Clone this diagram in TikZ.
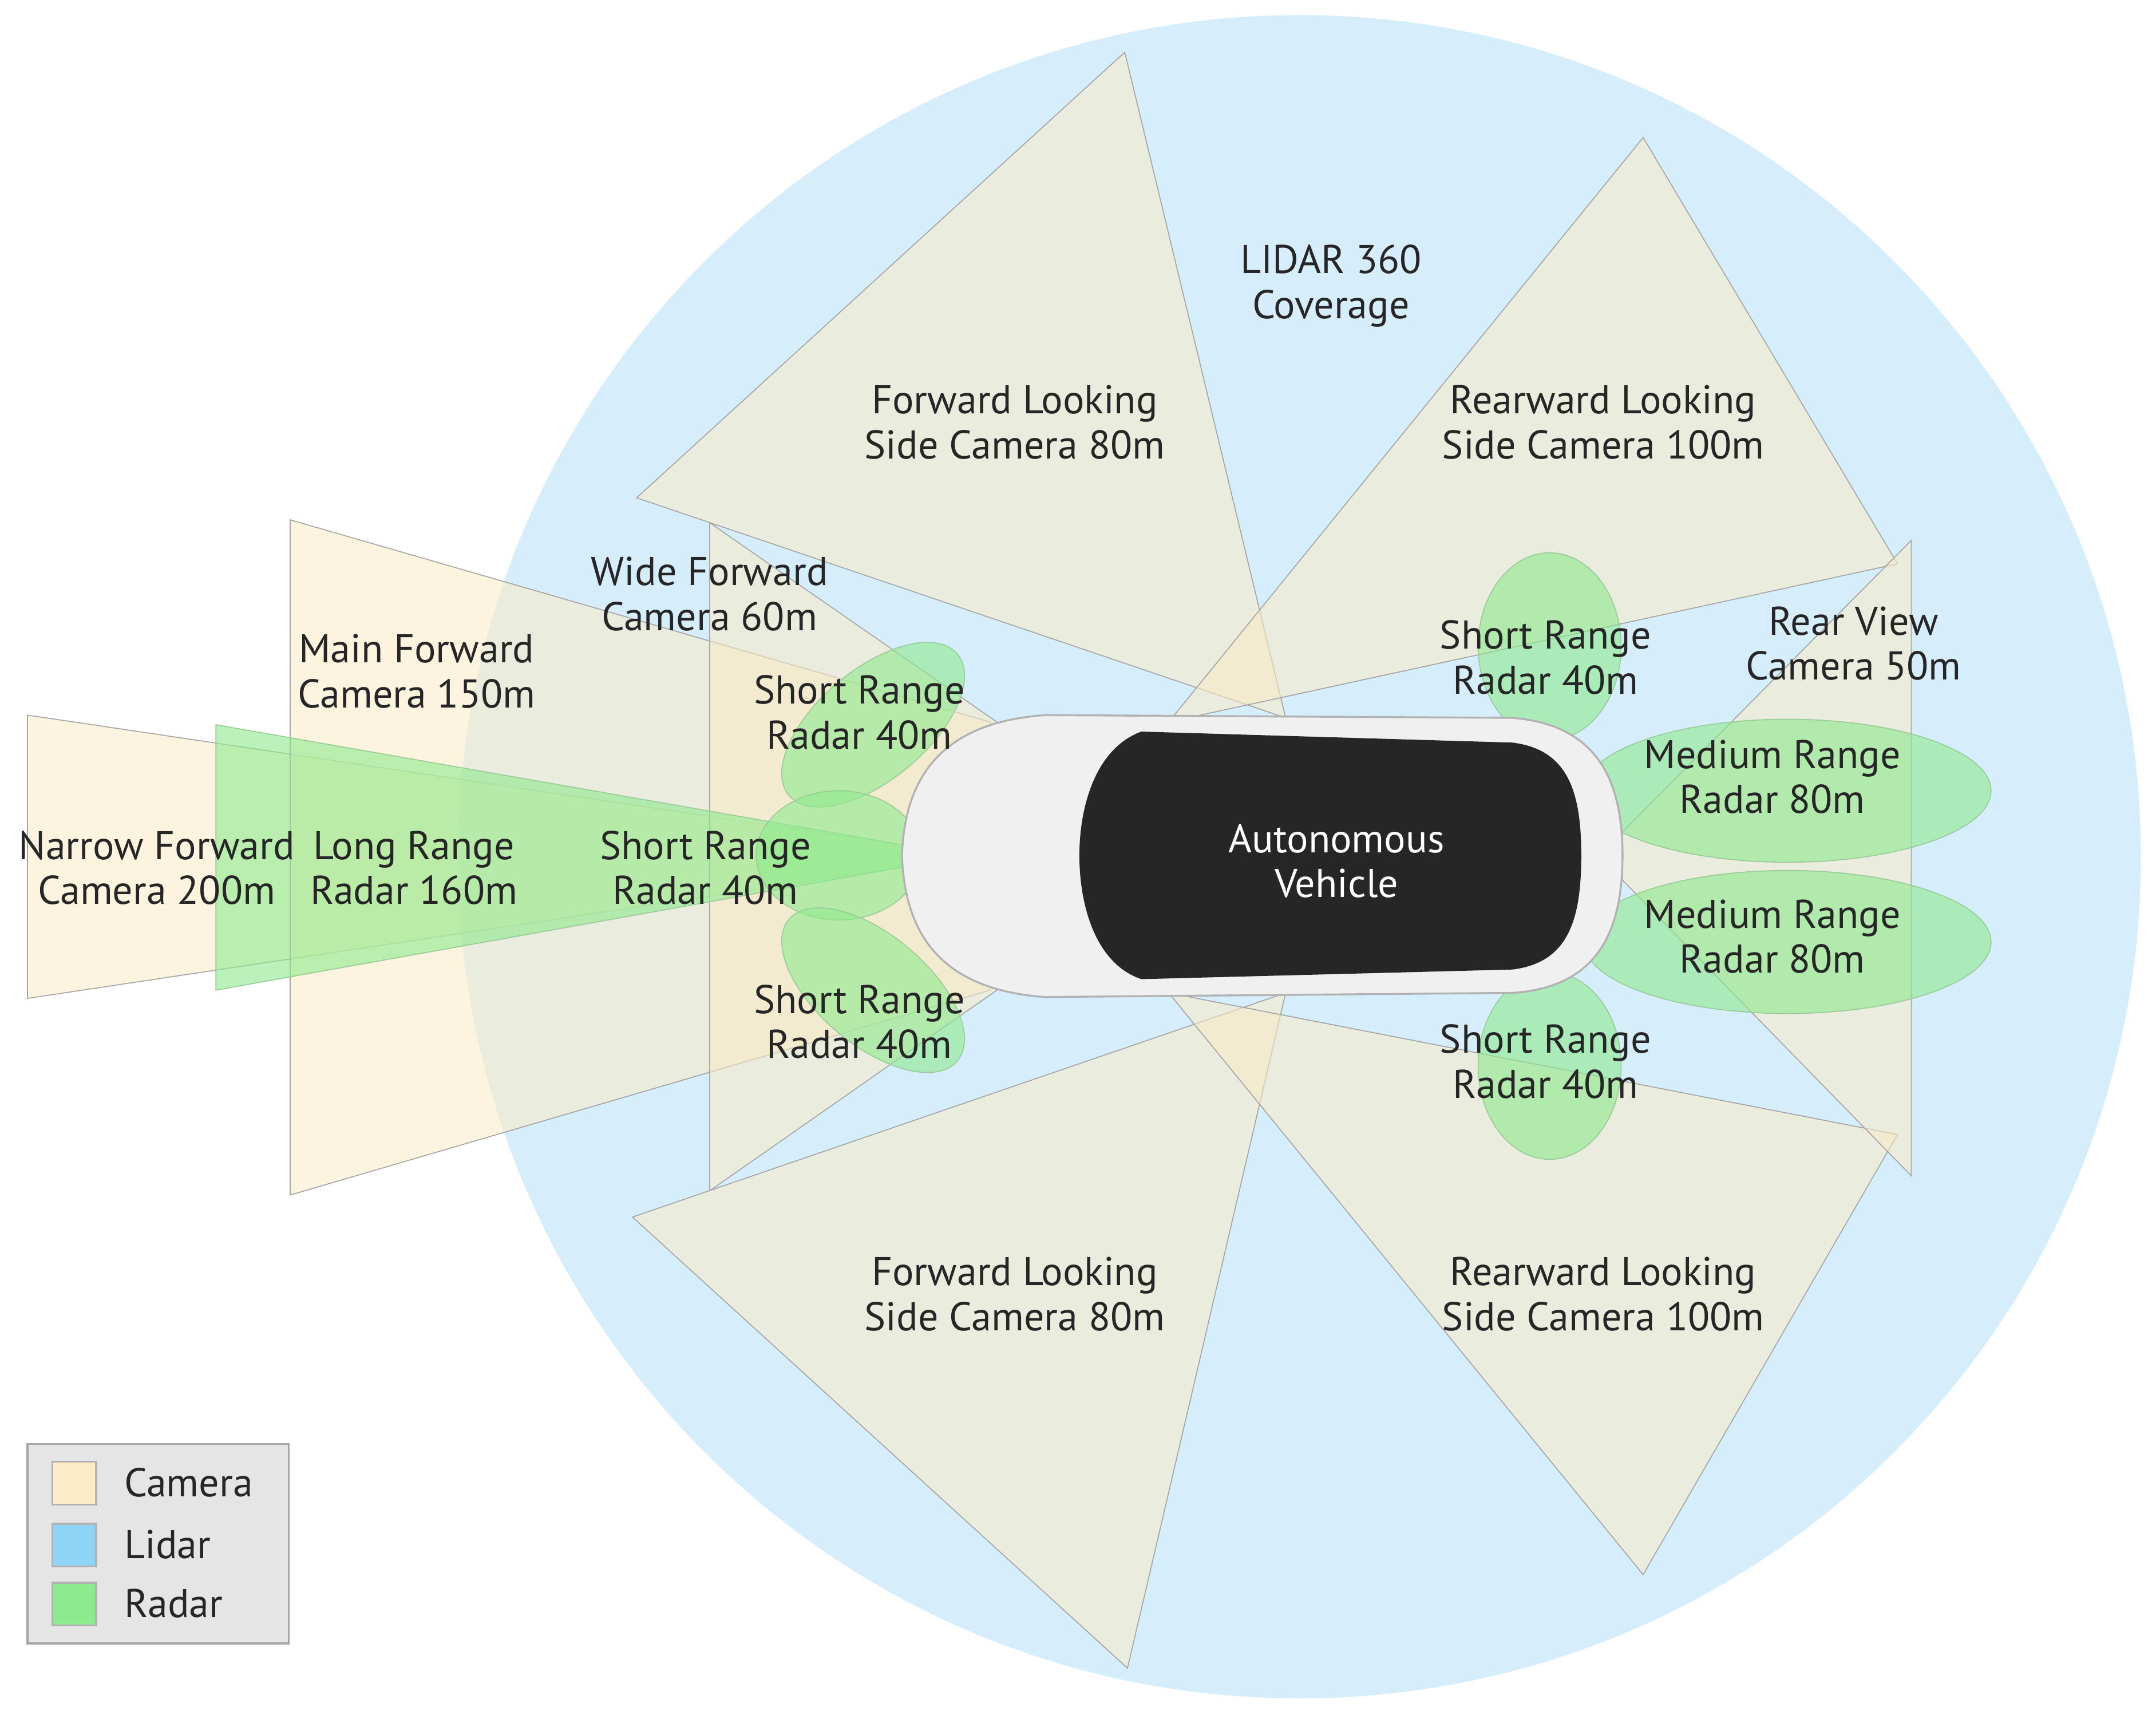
\documentclass[tikz,border=0pt]{standalone}
\usepackage{fontspec}
\setmainfont{PT Sans}
\begin{document}
\begin{tikzpicture}[x=0.1mm,y=-0.1mm,
  cam/.style={fill=camc,fill opacity=0.55,draw=gray!70,line width=0.2pt},
  rad/.style={fill=radc,fill opacity=0.6,draw=green!50!black!40,line width=0.2pt},
  lbl/.style={align=center,font=\fontsize{8.3}{9.3}\selectfont,text=black!85}]
\definecolor{camc}{HTML}{FCEBC6}
\definecolor{radc}{HTML}{8EEA8E}
\definecolor{lidc}{HTML}{D6EEFB}
\definecolor{lidl}{HTML}{8ED4F7}
\useasboundingbox (0,0) rectangle (1568,1247);
\fill[white] (0,0) rectangle (1568,1247);
\node[circle,fill=lidc,minimum size=122.4mm,inner sep=0] (lidar) at (945,623) {};
% cameras
\path[cam] (20,520) -- (660,615) -- (660,630) -- (20,726) -- cycle;
\path[cam] (211,378) -- (720,525) -- (720,720) -- (211,869) -- cycle;
\path[cam] (516,380) -- (725,525) -- (725,720) -- (516,866) -- cycle;
\path[cam] (463,362) -- (818,38) -- (935,522) -- cycle;
\path[cam] (460,885) -- (820,1213) -- (935,722) -- cycle;
\path[cam] (1195,100) -- (1380,410) -- (850,525) -- cycle;
\path[cam] (1195,1145) -- (1380,825) -- (850,722) -- cycle;
\path[cam] (1390,393) -- (1390,855) -- (1180,640) -- (1180,605) -- cycle;
% radars
\path[rad] (157,527) -- (660,615) -- (660,630) -- (157,720) -- cycle;
\path[rad] (635,527) ellipse [x radius=80,y radius=40,rotate=40];
\path[rad] (610,622) ellipse [x radius=60,y radius=47];
\path[rad] (635,720) ellipse [x radius=80,y radius=40,rotate=-40];
\path[rad] (1127,470) ellipse [x radius=52,y radius=68];
\path[rad] (1127,775) ellipse [x radius=52,y radius=68];
\path[rad] (1300,575) ellipse [x radius=148,y radius=52];
\path[rad] (1300,685) ellipse [x radius=148,y radius=52];
% car
\path[draw=gray!60,fill=gray!12,line width=0.4pt]
  (760,520) .. controls (690,525) and (658,560) .. (656,622)
  .. controls (658,685) and (690,720) .. (760,725)
  -- (1100,722) .. controls (1160,718) and (1180,680) .. (1180,622)
  .. controls (1180,565) and (1160,527) .. (1100,522) -- cycle;
\path[fill=black!85]
  (830,532) .. controls (795,545) and (785,590) .. (785,622)
  .. controls (785,655) and (795,700) .. (830,712)
  -- (1100,705) .. controls (1140,700) and (1150,670) .. (1150,622)
  .. controls (1150,575) and (1140,545) .. (1100,540) -- cycle;
\node[lbl,text=white] (cartxt) at (972,626) {Autonomous\\Vehicle};
% labels
\node[lbl] (l1) at (968,208) {LIDAR 360\\Coverage};
\node[lbl] (l2) at (738,307) {Forward Looking\\Side Camera 80m};
\node[lbl] (l3) at (1166,307) {Rearward Looking\\Side Camera 100m};
\node[lbl] (l4) at (516,432) {Wide Forward\\Camera 60m};
\node[lbl] (l5) at (303,488) {Main Forward\\Camera 150m};
\node[lbl] (l6) at (625,518) {Short Range\\Radar 40m};
\node[lbl] (l7) at (1124,478) {Short Range\\Radar 40m};
\node[lbl] (l8) at (1348,468) {Rear View\\Camera 50m};
\node[lbl] (l9) at (1289,565) {Medium Range\\Radar 80m};
\node[lbl] (l10) at (1289,681) {Medium Range\\Radar 80m};
\node[lbl] (l11) at (114,631) {Narrow Forward\\Camera 200m};
\node[lbl] (l12) at (301,631) {Long Range\\Radar 160m};
\node[lbl] (l13) at (513,631) {Short Range\\Radar 40m};
\node[lbl] (l14) at (625,743) {Short Range\\Radar 40m};
\node[lbl] (l15) at (1124,772) {Short Range\\Radar 40m};
\node[lbl] (l16) at (738,941) {Forward Looking\\Side Camera 80m};
\node[lbl] (l17) at (1166,941) {Rearward Looking\\Side Camera 100m};
% legend
\draw[fill=gray!20,draw=gray!70] (20,1050) rectangle (210,1195);
\draw[fill=camc,draw=gray!60] (38,1063) rectangle (70,1094);
\draw[fill=lidl,draw=gray!60] (38,1108) rectangle (70,1139);
\draw[fill=radc,draw=gray!60] (38,1151) rectangle (70,1182);
\node[lbl,anchor=west] (lg1) at (78,1078) {Camera};
\node[lbl,anchor=west] (lg2) at (78,1123) {Lidar};
\node[lbl,anchor=west] (lg3) at (78,1166) {Radar};
\end{tikzpicture}
\end{document}
